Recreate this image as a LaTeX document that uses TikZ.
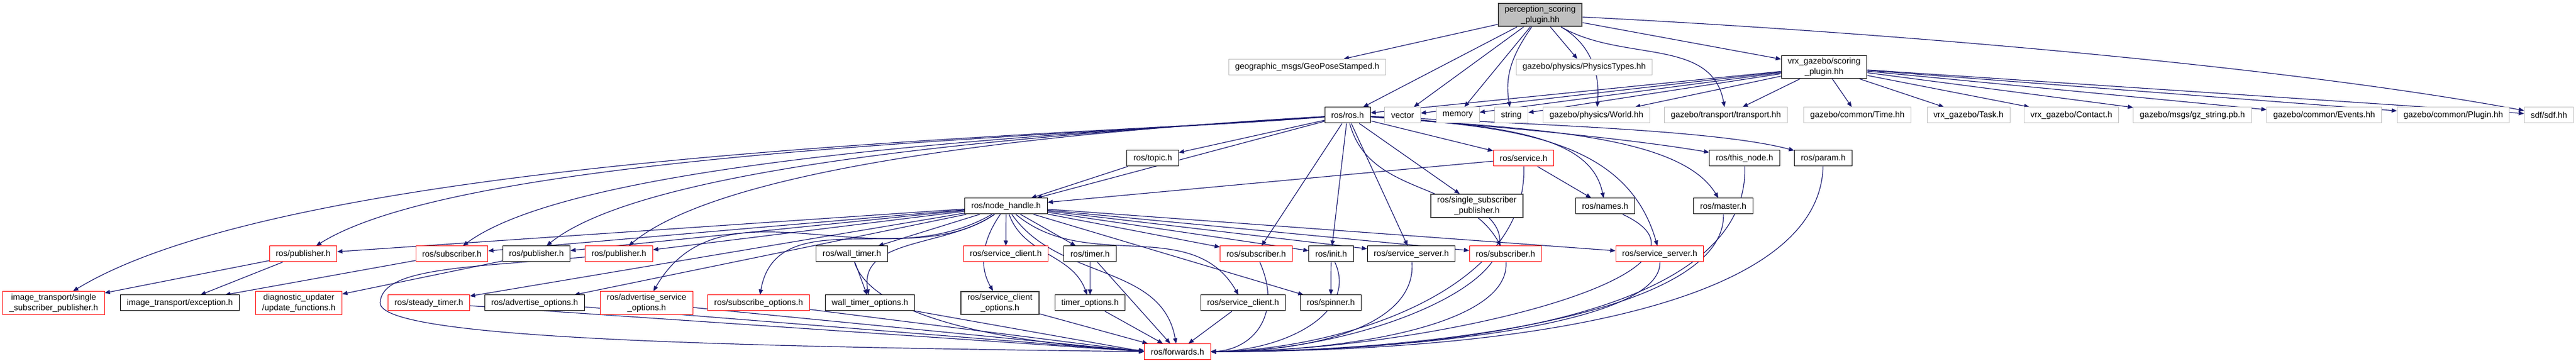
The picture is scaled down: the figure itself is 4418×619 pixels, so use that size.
\documentclass[tikz,border=0pt]{standalone}
\usepackage{fontspec}
\setmainfont{Liberation Sans}
\usetikzlibrary{arrows.meta,backgrounds}
\definecolor{edgeblue}{HTML}{191970}
\definecolor{extgray}{HTML}{BFBFBF}
\definecolor{rootgray}{HTML}{BFBFBF}
\definecolor{framegray}{HTML}{404040}

\begin{document}
\begin{tikzpicture}[x=0.5pt,y=0.5pt]
\tikzstyle{every node}=[rectangle, fill=white, inner xsep=5.5pt, inner ysep=2pt, minimum height=13.5pt, align=center, font=\fontsize{7.2}{9}\selectfont]
\tikzstyle{docbox}=[draw=black, line width=0.5pt]
\tikzstyle{extbox}=[draw=extgray, line width=0.5pt]
\tikzstyle{cutbox}=[draw=red, line width=0.5pt]
\tikzstyle{nodocbox}=[draw=framegray, line width=1pt]
\tikzstyle{rootbox}=[draw=framegray, fill=rootgray, line width=1pt]
\tikzstyle{incl}=[draw=edgeblue, line width=0.6pt, -{Triangle[length=4.5pt,width=3.6pt]}]
\useasboundingbox (0,0) rectangle (4418,619);
% row 0
\draw (2641.5,593.5) node (persc) [rootbox] {perception\_scoring\\\_plugin.hh};
% row 1
\draw (2242,504) node (geo) [extbox] {geographic\_msgs/GeoPoseStamped.h};
\draw (2717,504) node (phys) [extbox] {gazebo/physics/PhysicsTypes.hh};
\draw (3128.5,504) node (vrx) [docbox] {vrx\_gazebo/scoring\\\_plugin.hh};
% row 2
\draw (2311,421.5) node (rosh) [docbox] {ros/ros.h};
\draw (2405.5,421.5) node (vector) [extbox] {vector};
\draw (2500,421.5) node (memory) [extbox] {memory};
\draw (2592,421.5) node (string) [extbox] {string};
\draw (2738,421.5) node (world) [extbox] {gazebo/physics/World.hh};
\draw (2960,421.5) node (transport) [extbox] {gazebo/transport/transport.hh};
\draw (3185.5,421.5) node (time) [extbox] {gazebo/common/Time.hh};
\draw (3376,421.5) node (task) [extbox] {vrx\_gazebo/Task.h};
\draw (3552.5,421.5) node (contact) [extbox] {vrx\_gazebo/Contact.h};
\draw (3760,421.5) node (gzstring) [extbox] {gazebo/msgs/gz\_string.pb.h};
\draw (3986,421.5) node (events) [extbox] {gazebo/common/Events.hh};
\draw (4207.5,421.5) node (plugin) [extbox] {gazebo/common/Plugin.hh};
\draw (4371.5,421.5) node (sdf) [extbox] {sdf/sdf.hh};
% row 3
\draw (1977,347.5) node (topic) [docbox] {ros/topic.h};
\draw (2613,347.5) node (service) [cutbox] {ros/service.h};
\draw (2992,347.5) node (thisnode) [docbox] {ros/this\_node.h};
\draw (3127,347.5) node (param) [docbox] {ros/param.h};
% row 4
\draw (1725.5,265.5) node (nodehandle) [docbox] {ros/node\_handle.h};
\draw (2533,266) node (ssp) [nodocbox] {ros/single\_subscriber\\\_publisher.h};
\draw (2753,265.5) node (names) [docbox] {ros/names.h};
\draw (2955.5,265.5) node (master) [docbox] {ros/master.h};
% row 5
\draw (520,183.5) node (pubA) [cutbox] {ros/publisher.h};
\draw (775,183.5) node (subA) [cutbox] {ros/subscriber.h};
\draw (920,183.5) node (pubB) [docbox] {ros/publisher.h};
\draw (1061.5,183.5) node (pubC) [cutbox] {ros/publisher.h};
\draw (1461,183.5) node (walltimer) [docbox] {ros/wall\_timer.h};
\draw (1725,183.5) node (srvclientR) [cutbox] {ros/service\_client.h};
\draw (1869.5,183.5) node (timer) [docbox] {ros/timer.h};
\draw (2154.5,183.5) node (subB) [cutbox] {ros/subscriber.h};
\draw (2283,183.5) node (init) [docbox] {ros/init.h};
\draw (2420.5,183.5) node (srvserver) [docbox] {ros/service\_server.h};
\draw (2582,183.5) node (subC) [cutbox] {ros/subscriber.h};
\draw (2846.5,183.5) node (srvserverR) [cutbox] {ros/service\_server.h};
% row 6
\draw (92,99.5) node (itssp) [cutbox] {image\_transport/single\\\_subscriber\_publisher.h};
\draw (308.5,99.5) node (itexc) [docbox] {image\_transport/exception.h};
\draw (512.5,99.5) node (diag) [cutbox] {diagnostic\_updater\\/update\_functions.h};
\draw (735.5,99.5) node (steady) [cutbox] {ros/steady\_timer.h};
\draw (917,99.5) node (advopt) [docbox] {ros/advertise\_options.h};
\draw (1109,99.5) node (advsrv) [cutbox] {ros/advertise\_service\\\_options.h};
\draw (1301,99.5) node (subopt) [cutbox] {ros/subscribe\_options.h};
\draw (1492,99.5) node (wtopt) [docbox] {wall\_timer\_options.h};
\draw (1715,99.5) node (scopt) [nodocbox] {ros/service\_client\\\_options.h};
\draw (1869.5,99.5) node (topt) [docbox] {timer\_options.h};
\draw (2132,99.5) node (srvclient) [docbox] {ros/service\_client.h};
\draw (2282.5,99.5) node (spinner) [docbox] {ros/spinner.h};
% row 7
\draw (2019.5,16) node (forwards) [cutbox] {ros/forwards.h};

\begin{pgfonlayer}{background}
% perception_scoring_plugin.hh
\draw[incl] (persc) -- (geo);
\draw[incl] (persc) -- (rosh);
\draw[incl] (persc) -- (vector);
\draw[incl] (persc) -- (memory);
\draw[incl] (persc) to[out=-125,in=100] (string);
\draw[incl] (persc) -- (phys);
\draw[incl] (persc) to[out=-30,in=85] (world);
\draw[incl] (persc) to[out=-30,in=100] (transport);
\draw[incl] (persc) -- (vrx);
\draw[incl] (persc) .. controls (3300,560) and (3950,500) .. (sdf);
% vrx_gazebo/scoring_plugin.hh
\draw[incl] (vrx) -- (rosh);
\draw[incl] (vrx) -- (vector);
\draw[incl] (vrx) -- (memory);
\draw[incl] (vrx) -- (string);
\draw[incl] (vrx) -- (world);
\draw[incl] (vrx) -- (transport);
\draw[incl] (vrx) -- (time);
\draw[incl] (vrx) -- (task);
\draw[incl] (vrx) -- (contact);
\draw[incl] (vrx) -- (gzstring);
\draw[incl] (vrx) -- (events);
\draw[incl] (vrx) -- (plugin);
\draw[incl] (vrx) -- (sdf);
% ros/ros.h
\draw[incl] (rosh) .. controls (1850,385) and (520,360) .. (itssp);
\draw[incl] (rosh) .. controls (1850,385) and (800,360) .. (pubA);
\draw[incl] (rosh) .. controls (1850,390) and (1000,350) .. (subA);
\draw[incl] (rosh) .. controls (1850,392) and (1120,345) .. (pubB);
\draw[incl] (rosh) .. controls (1850,395) and (1250,340) .. (pubC);
\draw[incl] (rosh) -- (topic);
\draw[incl] (rosh) -- (nodehandle);
\draw[incl] (rosh) -- (subB);
\draw[incl] (rosh) -- (init);
\draw[incl] (rosh) -- (srvserver);
\draw[incl] (rosh) -- (ssp);
\draw[incl] (rosh) to[out=-75,in=120] (subC);
\draw[incl] (rosh) -- (service);
\draw[incl] (rosh) .. controls (2600,404) and (2730,380) .. (names);
\draw[incl] (rosh) .. controls (2600,402) and (2790,380) .. (srvserverR);
\draw[incl] (rosh) .. controls (2620,398) and (2880,390) .. (master);
\draw[incl] (rosh) .. controls (2600,400) and (2800,380) .. (thisnode);
\draw[incl] (rosh) .. controls (2650,405) and (2950,395) .. (param);
\draw[incl] (topic) -- (nodehandle);
% ros/service.h
\draw[incl] (service) -- (nodehandle);
\draw[incl] (service) -- (names);
\draw[incl] (service) .. controls (2620,120) and (2300,20) .. (forwards.east);
% ros/node_handle.h
\draw[incl] (nodehandle) -- (pubA);
\draw[incl] (nodehandle) -- (subA);
\draw[incl] (nodehandle) -- (pubB);
\draw[incl] (nodehandle) -- (pubC);
\draw[incl] (nodehandle) -- (walltimer);
\draw[incl] (nodehandle) -- (srvclientR);
\draw[incl] (nodehandle) -- (timer);
\draw[incl] (nodehandle) -- (subB);
\draw[incl] (nodehandle) -- (init);
\draw[incl] (nodehandle) -- (srvserver);
\draw[incl] (nodehandle) -- (subC);
\draw[incl] (nodehandle) -- (srvserverR);
\draw[incl] (nodehandle) -- (steady);
\draw[incl] (nodehandle) -- (advopt);
\draw[incl] (nodehandle) to[out=210,in=60] (advsrv);
\draw[incl] (nodehandle) to[out=215,in=80] (subopt);
\draw[incl] (nodehandle) to[out=215,in=100] (wtopt);
\draw[incl] (nodehandle) to[out=235,in=120] (scopt);
\draw[incl] (nodehandle) to[out=-70,in=110] (topt);
\draw[incl] (nodehandle) to[out=-40,in=120] (srvclient);
\draw[incl] (nodehandle) -- (spinner);
\draw[incl] (nodehandle) to[out=-55,in=100] (forwards);
% row 5 onwards
\draw[incl] (pubA) -- (itssp);
\draw[incl] (pubA) -- (itexc);
\draw[incl] (subA) -- (itexc);
\draw[incl] (pubB) -- (diag);
\draw[incl] (pubC) .. controls (800,160) and (655,160) .. (652,100) .. controls (650,40) and (1200,25) .. (forwards.west);
\draw[incl] (walltimer) -- (wtopt);
\draw[incl] (walltimer) .. controls (1500,60) and (1800,25) .. (forwards);
\draw[incl] (timer) -- (topt);
\draw[incl] (timer) -- (forwards);
\draw[incl] (subB) .. controls (2200,80) and (2150,20) .. (forwards.east);
\draw[incl] (init) -- (spinner);
\draw[incl] (init) .. controls (2330,80) and (2200,18) .. (forwards.east);
\draw[incl] (srvserver) .. controls (2430,60) and (2250,16) .. (forwards.east);
\draw[incl] (subC) .. controls (2590,60) and (2300,16) .. (forwards.east);
\draw[incl] (srvserverR) .. controls (2850,60) and (2400,16) .. (forwards.east);
\draw[incl] (ssp) .. controls (2650,150) and (2350,16) .. (forwards.east);
\draw[incl] (names) .. controls (3000,150) and (2450,16) .. (forwards.east);
\draw[incl] (master) .. controls (2960,80) and (2450,16) .. (forwards.east);
\draw[incl] (thisnode) .. controls (3000,80) and (2500,16) .. (forwards.east);
\draw[incl] (param) .. controls (3120,80) and (2550,16) .. (forwards.east);
\draw[incl] (steady) -- (forwards.west);
\draw[incl] (advopt) -- (forwards.west);
\draw[incl] (advsrv) -- (forwards.west);
\draw[incl] (subopt) -- (forwards.west);
\draw[incl] (wtopt) -- (forwards.west);
\draw[incl] (scopt) -- (forwards);
\draw[incl] (topt) -- (forwards);
\draw[incl] (srvclient) -- (forwards);
\end{pgfonlayer}
\end{tikzpicture}
\end{document}
